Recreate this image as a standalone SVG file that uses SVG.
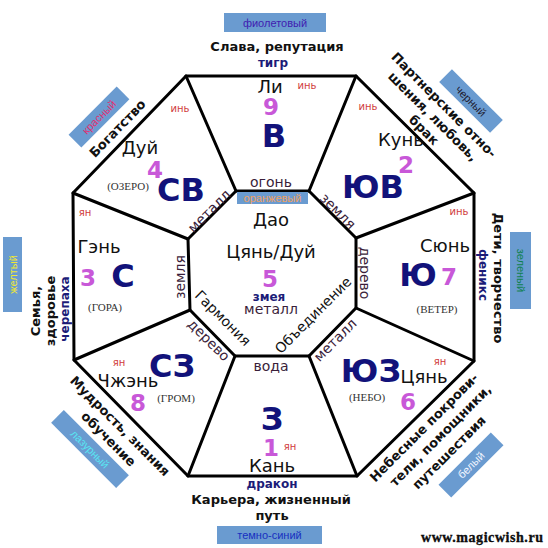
<svg xmlns="http://www.w3.org/2000/svg" width="548" height="548" viewBox="0 0 548 548">
<style>
.ln{stroke:#000;stroke-width:3;fill:none;stroke-linejoin:round;stroke-linecap:round}
.lab{font-family:"DejaVu Sans",sans-serif;font-weight:bold;font-size:13px;fill:#111;text-anchor:middle;dominant-baseline:central}
.box{fill:#6a9bd0}
.bt{font-family:"Liberation Sans",Arial,sans-serif;font-size:11px;text-anchor:middle;dominant-baseline:central}
.big{font-family:"DejaVu Sans",sans-serif;font-weight:bold;font-size:32px;fill:#12127a;text-anchor:middle}
.num{font-family:"DejaVu Sans",sans-serif;font-weight:bold;font-size:23px;fill:#c858d8;text-anchor:middle}
.tri{font-family:"DejaVu Sans",sans-serif;font-size:18px;fill:#111;text-anchor:middle}
.yy{font-family:"DejaVu Sans",sans-serif;font-size:10px;fill:#d03a3a;text-anchor:middle}
.par{font-family:"Liberation Serif",serif;font-size:11px;fill:#333;text-anchor:middle}
.el{font-family:"DejaVu Sans",sans-serif;font-size:14px;fill:#3a1e3a;text-anchor:middle;dominant-baseline:central}
.ani{font-family:"DejaVu Sans",sans-serif;font-weight:bold;font-size:12px;fill:#1c1c78;text-anchor:middle}
.ctr{font-family:"DejaVu Sans",sans-serif;font-size:14px;fill:#111;text-anchor:middle;dominant-baseline:central}
</style>
<rect width="548" height="548" fill="#fff"/>
<g id="connectors">
<polygon class="ln" points="186,76 356,76 474,193 474,361 357,476 188,476 74,360 73,193"/>
<polygon class="ln" points="236,191 309,191 356,238 356,308 309,356 235,356 190,310 188,239"/>
<line class="ln" x1="236" y1="191" x2="186" y2="76"/>
<line class="ln" x1="309" y1="191" x2="356" y2="76"/>
<line class="ln" x1="356" y1="238" x2="474" y2="193"/>
<line class="ln" x1="356" y1="308" x2="474" y2="361"/>
<line class="ln" x1="309" y1="356" x2="357" y2="476"/>
<line class="ln" x1="235" y1="356" x2="188" y2="476"/>
<line class="ln" x1="190" y1="310" x2="74" y2="360"/>
<line class="ln" x1="188" y1="239" x2="73" y2="193"/>
</g>
<g id="south-top">
<rect class="box" x="224" y="13" width="102" height="19"/>
<text class="bt" x="275" y="22.5" fill="#4020b0">фиолетовый</text>
<text class="lab" x="277" y="46">Слава, репутация</text>
<text class="ani" x="273" y="67" font-size="11">тигр</text>
<text class="tri" x="270" y="93">Ли</text>
<text class="yy" x="307" y="89">инь</text>
<text class="num" x="271" y="115">9</text>
<text class="big" x="274" y="147">В</text>
</g>
<g id="ne">
<g transform="translate(471,101) rotate(45)"><rect class="box" x="-36" y="-9" width="72" height="18"/><text class="bt" fill="#202030">черный</text></g>
<text class="lab" transform="translate(444,105) rotate(45)">Партнерские отно-</text>
<text class="lab" transform="translate(433,116.5) rotate(45)">шения, любовь,</text>
<text class="lab" transform="translate(424,130) rotate(45)">брак</text>
<text class="yy" x="368" y="110">инь</text>
<text class="tri" x="401" y="146">Кунь</text>
<text class="num" x="406" y="173">2</text>
<text class="big" x="373" y="198">ЮВ</text>
</g>
<g id="east">
<rect class="box" x="510" y="232" width="21" height="77"/>
<text class="bt" transform="translate(520.5,270.5) rotate(90)" fill="#108050">зеленый</text>
<text class="lab" transform="translate(498,278) rotate(90)">Дети, творчество</text>
<text class="ani" transform="translate(483,275) rotate(90)" font-size="11.5" dominant-baseline="central">феникс</text>
<text class="yy" x="459" y="215">инь</text>
<text class="tri" x="445" y="252">Сюнь</text>
<text class="big" x="418" y="286">Ю</text>
<text class="num" x="449" y="285">7</text>
<text class="par" x="437" y="313">(ВЕТЕР)</text>
</g>
<g id="se">
<g transform="translate(471,465) rotate(-45)"><rect class="box" x="-37" y="-9" width="74" height="18"/><text class="bt" fill="#f2f6ff">белый</text></g>
<text class="lab" transform="translate(424,427.5) rotate(-45)">Небесные покрови-</text>
<text class="lab" transform="translate(440.5,435.5) rotate(-45)">тели, помощники,</text>
<text class="lab" transform="translate(449,452.5) rotate(-45)">путешествия</text>
<text class="yy" x="440" y="365">ян</text>
<text class="big" x="371" y="382">ЮЗ</text>
<text class="tri" x="424" y="383">Цянь</text>
<text class="par" x="367" y="401">(НЕБО)</text>
<text class="num" x="408" y="410">6</text>
</g>
<g id="north-bottom">
<text class="big" x="272" y="430">З</text>
<text class="num" x="271" y="456">1</text>
<text class="yy" x="290" y="450">ян</text>
<text class="tri" x="272" y="472">Кань</text>
<text class="ani" x="272" y="488">дракон</text>
<text class="lab" x="271" y="499" font-size="14">Карьера, жизненный</text>
<text class="lab" x="272" y="515" font-size="14">путь</text>
<rect class="box" x="217" y="526" width="105" height="18"/>
<text class="bt" x="269.5" y="535" fill="#1830c0">темно-синий</text>
</g>
<g id="sw">
<g transform="translate(90,449) rotate(45)"><rect class="box" x="-46" y="-9" width="92" height="18"/><text class="bt" fill="#58e6f2">лазурный</text></g>
<text class="lab" transform="translate(120,426) rotate(45)">Мудрость, знания</text>
<text class="lab" transform="translate(108.5,439) rotate(45)">обучение</text>
<text class="yy" x="119" y="366">ян</text>
<text class="big" x="172" y="377">СЗ</text>
<text class="tri" x="128" y="387">Чжэнь</text>
<text class="par" x="176" y="402">(ГРОМ)</text>
<text class="num" x="138" y="411">8</text>
</g>
<g id="west">
<rect class="box" x="3" y="237" width="19" height="75"/>
<text class="bt" transform="translate(12.5,274.5) rotate(-90)" fill="#f0e830">желтый</text>
<text class="lab" transform="translate(35,311) rotate(-90)" text-anchor="start">Семья,</text>
<text class="lab" transform="translate(50.5,311) rotate(-90)" text-anchor="start">здоровье</text>
<text class="ani" transform="translate(64.5,309) rotate(-90)" text-anchor="start" dominant-baseline="central">черепаха</text>
<text class="yy" x="85" y="216">ян</text>
<text class="tri" x="99" y="253">Гэнь</text>
<text class="num" x="88" y="286">3</text>
<text class="big" x="123" y="287">С</text>
<text class="par" x="105" y="311">(ГОРА)</text>
</g>
<g id="nw">
<g transform="translate(99,117) rotate(-45)"><rect class="box" x="-34" y="-9" width="68" height="18"/><text class="bt" fill="#e03070">красный</text></g>
<text class="lab" transform="translate(117.5,128.5) rotate(-46)" font-size="14">Богатство</text>
<text class="yy" x="180" y="112">инь</text>
<text class="tri" x="140" y="154">Дуй</text>
<text class="num" x="155" y="178">4</text>
<text class="par" x="128" y="190">(ОЗЕРО)</text>
<text class="big" x="181" y="201">СВ</text>
</g>
<g id="center">
<text class="el" x="271" y="182">огонь</text>
<rect class="box" x="237" y="192" width="71" height="12"/>
<text class="bt" x="272.5" y="198" fill="#f0a060" font-size="10">оранжевый</text>
<text class="el" transform="translate(209,211) rotate(-45)">металл</text>
<text class="el" transform="translate(338,211) rotate(45)">земля</text>
<text class="el" transform="translate(365,273) rotate(90)">дерево</text>
<text class="el" transform="translate(335,340) rotate(-45)">металл</text>
<text class="el" x="271" y="366">вода</text>
<text class="el" transform="translate(209,340) rotate(45)">дерево</text>
<text class="el" transform="translate(180,277) rotate(-90)">земля</text>
<text class="tri" x="271" y="226">Дао</text>
<text class="tri" x="271" y="258" font-size="15">Цянь/Дуй</text>
<text class="num" x="270" y="287" font-size="28">5</text>
<text class="ani" x="269" y="301">змея</text>
<text class="el" x="271" y="309">металл</text>
<text class="ctr" transform="translate(223,318) rotate(45)">Гармония</text>
<text class="ctr" transform="translate(313,315) rotate(-45)">Объединение</text>
</g>
<text x="482" y="542" text-anchor="middle" font-family="Liberation Serif,serif" font-weight="bold" font-size="14" textLength="122" fill="#111" stroke="#000" stroke-width="0.3">www.magicwish.ru</text>
</svg>
